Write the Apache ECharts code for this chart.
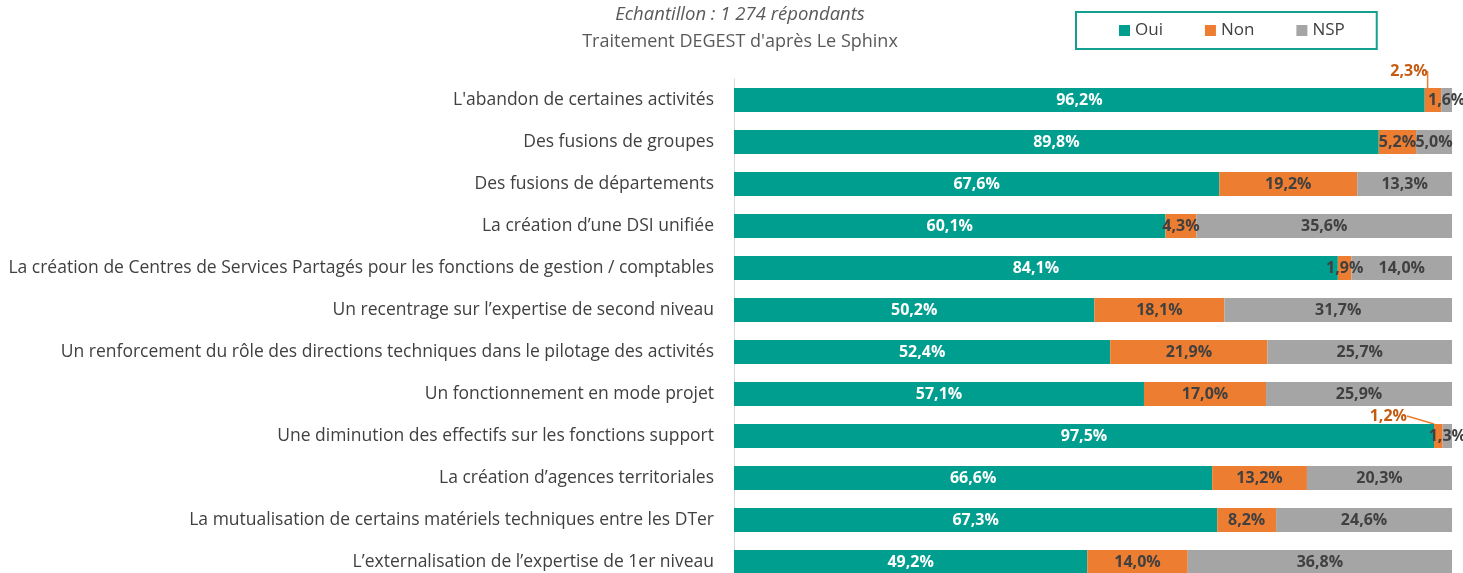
<!DOCTYPE html>
<html>
<head>
<meta charset="utf-8">
<script src="https://cdn.jsdelivr.net/npm/echarts@6/dist/echarts.min.js"></script>
<style>
  html, body { margin: 0; padding: 0; background: #fff; overflow: hidden; }
  #chart { width: 1463px; height: 600px; }
</style>
</head>
<body>
<div id="chart"></div>
<script>
// catégories et valeurs (en %)
var categories = [
  "L'abandon de certaines activités",
  "Des fusions de groupes",
  "Des fusions de départements",
  "La création d’une DSI unifiée",
  "La création de Centres de Services Partagés pour les fonctions de gestion / comptables",
  "Un recentrage sur l’expertise de second niveau",
  "Un renforcement du rôle des directions techniques dans le pilotage des activités",
  "Un fonctionnement en mode projet",
  "Une diminution des effectifs sur les fonctions support",
  "La création d’agences territoriales",
  "La mutualisation de certains matériels techniques entre les DTer",
  "L’externalisation de l’expertise de 1er niveau"
];
var oui = [96.2, 89.8, 67.6, 60.1, 84.1, 50.2, 52.4, 57.1, 97.5, 66.6, 67.3, 49.2];
var non = [2.3, 5.2, 19.2, 4.3, 1.9, 18.1, 21.9, 17.0, 1.2, 13.2, 8.2, 14.0];
var nsp = [1.6, 5.0, 13.3, 35.6, 14.0, 31.7, 25.7, 25.9, 1.3, 20.3, 24.6, 36.8];

var FONT = "Open Sans";
var fmt = function (p) { return p.value.toFixed(1).replace(".", ",") + "%"; };

var myChart = echarts.init(document.getElementById("chart"));

var options = {
  animation: false,
  title: {
    text: "Echantillon : 1 274 répondants",
    subtext: "Traitement DEGEST d'après Le Sphinx",
    left: 735,
    top: 0,
    textAlign: "center",
    itemGap: 9,
    textStyle: { fontFamily: FONT, fontSize: 18.5, fontStyle: "italic", fontWeight: "normal", color: "#595959" },
    subtextStyle: { fontFamily: FONT, fontSize: 18, color: "#595959" }
  },
  legend: {
    data: ["Oui", "Non", "NSP"],
    left: 1076,
    top: 12,
    padding: [10, 32, 10, 43],
    itemGap: 42,
    itemWidth: 11,
    itemHeight: 11,
    icon: "rect",
    borderColor: "#14A08F",
    borderWidth: 2,
    textStyle: { fontFamily: FONT, fontSize: 17, color: "#404040" }
  },
  grid: {
    left: 734,
    top: 79,
    width: 718,
    height: 504,
    containLabel: false
  },
  xAxis: {
    type: "value",
    min: 0,
    max: 100,
    show: false
  },
  yAxis: {
    type: "category",
    inverse: true,
    data: categories,
    axisLine: { show: true, lineStyle: { color: "#D9D9D9", width: 1 } },
    axisTick: { show: false },
    axisLabel: { fontFamily: FONT, fontSize: 17.5, color: "#404040", margin: 20 }
  },
  series: [
    {
      name: "Oui",
      type: "bar",
      stack: "total",
      barWidth: 24,
      data: oui,
      itemStyle: { color: "#009E8E" },
      label: { show: true, position: "inside", formatter: fmt, fontFamily: FONT, fontSize: 16, fontWeight: "bold", color: "#fff" }
    },
    {
      name: "Non",
      type: "bar",
      stack: "total",
      barWidth: 24,
      data: non.map(function (v, i) {
        // deux étiquettes sorties de la barre, avec trait de rappel
        if (i === 0 || i === 8) {
          return { value: v, label: { color: "#C55A11" } };
        }
        return v;
      }),
      itemStyle: { color: "#ED7D31" },
      label: { show: true, position: "inside", formatter: fmt, fontFamily: FONT, fontSize: 16, fontWeight: "bold", color: "#404040" },
      labelLine: { show: true, lineStyle: { color: "#ED7D31", width: 1.5 } },
      labelLayout: function (params) {
        if (params.dataIndex === 0) return { dx: -24, dy: -29 };
        if (params.dataIndex === 8) return { dx: -50, dy: -20 };
        return {};
      }
    },
    {
      name: "NSP",
      type: "bar",
      stack: "total",
      barWidth: 24,
      data: nsp,
      itemStyle: { color: "#A5A5A5" },
      label: { show: true, position: "inside", formatter: fmt, fontFamily: FONT, fontSize: 16, fontWeight: "bold", color: "#404040" }
    }
  ]
};

myChart.setOption(options);
</script>
</body>
</html>
